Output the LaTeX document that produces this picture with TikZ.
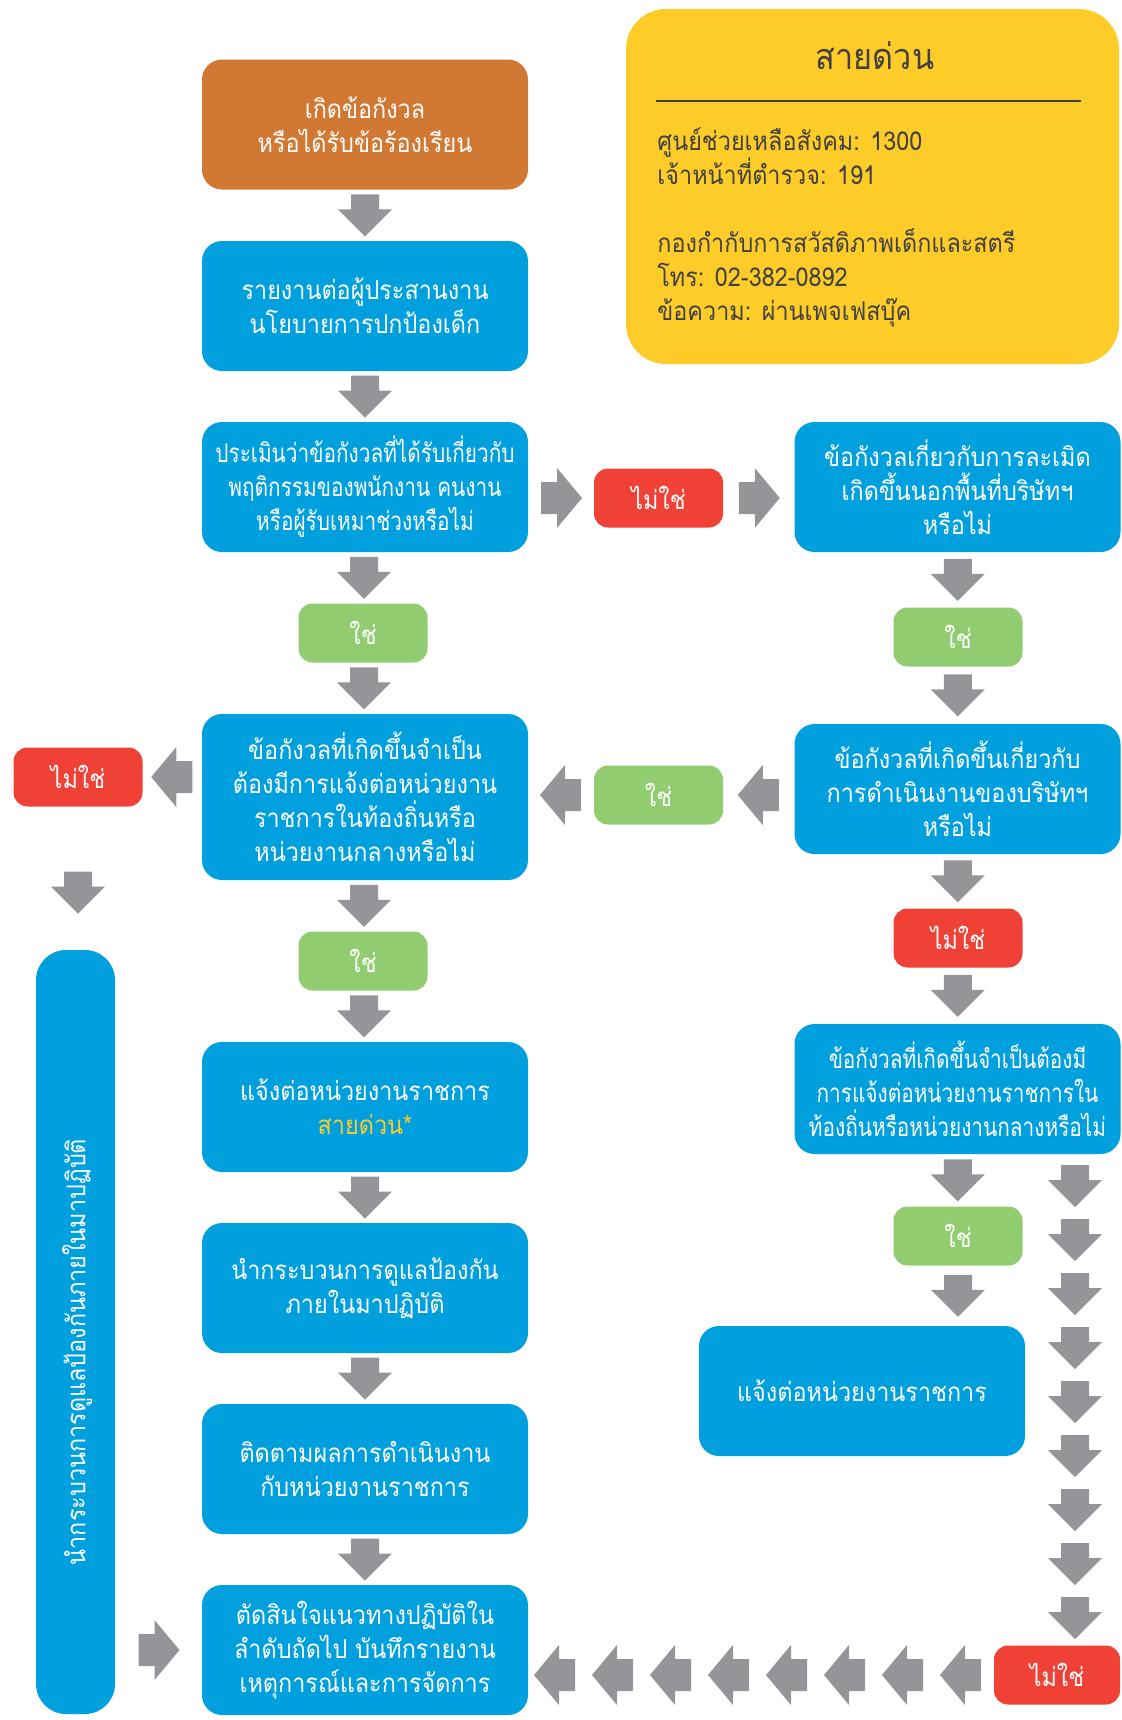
\documentclass[tikz,border=0pt]{standalone}
\usepackage{fontspec}
\newfontfamily\thaifont[Script=Thai, FakeStretch=0.9]{Loma}
\newfontfamily\thainarrow[Script=Thai, FakeStretch=0.8]{Loma}
\usetikzlibrary{calc}

\definecolor{boxblue}{RGB}{0,160,222}
\definecolor{boxorange}{RGB}{209,121,50}
\definecolor{nored}{RGB}{239,65,54}
\definecolor{yesgreen}{RGB}{146,204,112}
\definecolor{hotyellow}{RGB}{254,204,41}
\definecolor{arrgray}{RGB}{147,149,152}
\definecolor{txtgray}{RGB}{65,64,66}

\begin{document}
\begin{tikzpicture}[x=0.5pt, y=-0.5pt, font=\thaifont\fontsize{13}{17}\selectfont,
  stepbox/.style={rounded corners=10pt, fill=boxblue, text=white, align=center,
    minimum width=163pt, minimum height=65pt, inner sep=0pt},
  widebox/.style={stepbox, font=\thainarrow\fontsize{13}{17}\selectfont},
  pill/.style={rounded corners=7pt, text=white, minimum width=64.5pt, minimum height=29.5pt, inner sep=0pt},
  nobox/.style={pill, fill=nored},
  yesbox/.style={pill, fill=yesgreen},
  varr/.pic={\fill[arrgray] (-21,-14) -- (-6,-14) -- (-6,-27) -- (21,0) -- (-6,27) -- (-6,14) -- (-21,14) -- cycle;},
  harr/.pic={\fill[arrgray] (-20,-16) -- (-4,-16) -- (-4,-30) -- (21,0) -- (-4,30) -- (-4,16) -- (-20,16) -- cycle;}]

\useasboundingbox (0,0) rectangle (1121,1720);

% hotline panel
\node[fill=hotyellow, rounded corners=20pt, minimum width=246.5pt, minimum height=177.5pt] (hotline) at (872.5,186.5) {};
\node[text=txtgray, font=\thaifont\fontsize{18}{22}\selectfont] (hltitle) at (875,56) {สายด่วน};
\draw[txtgray, line width=0.6pt] (656,101) -- (1081,101);
\node[text=txtgray, align=left, anchor=north west, inner sep=0pt] (hlinfo) at (657,127)
  {ศูนย์ช่วยเหลือสังคม: 1300\\เจ้าหน้าที่ตำรวจ: 191\\[17pt]กองกำกับการสวัสดิภาพเด็กและสตรี\\โทร: 02-382-0892\\ข้อความ: ผ่านเพจเฟสบุ๊ค};

% main column
\node[stepbox, fill=boxorange] (start) at (365,124.5) {เกิดข้อกังวล\\หรือได้รับข้อร้องเรียน};
\node[stepbox] (report) at (365,306) {รายงานต่อผู้ประสานงาน\\นโยบายการปกป้องเด็ก};
\node[widebox] (assess) at (365,487) {ประเมินว่าข้อกังวลที่ได้รับเกี่ยวกับ\\พฤติกรรมของพนักงาน คนงาน\\หรือผู้รับเหมาช่วงหรือไม่};
\node[yesbox] (yesA) at (363,633) {ใช่};
\node[stepbox, minimum height=83pt] (needgov) at (365,797) {ข้อกังวลที่เกิดขึ้นจำเป็น\\ต้องมีการแจ้งต่อหน่วยงาน\\ราชการในท้องถิ่นหรือ\\หน่วยงานกลางหรือไม่};
\node[yesbox] (yesD) at (363,961) {ใช่};
\node[stepbox] (notify) at (365,1107) {แจ้งต่อหน่วยงานราชการ\\\textcolor{hotyellow}{สายด่วน*}};
\node[stepbox] (internal) at (365,1288) {นำกระบวนการดูแลป้องกัน\\ภายในมาปฏิบัติ};
\node[stepbox] (follow) at (365,1469) {ติดตามผลการดำเนินงาน\\กับหน่วยงานราชการ};
\node[stepbox] (decide) at (365,1650) {ตัดสินใจแนวทางปฏิบัติใน\\ลำดับถัดไป บันทึกรายงาน\\เหตุการณ์และการจัดการ};

% middle and right column
\node[nobox] (noA) at (658.5,498) {ไม่ใช่};
\node[yesbox] (yesC) at (658.5,795) {ใช่};
\node[stepbox] (offsite) at (957.5,487) {ข้อกังวลเกี่ยวกับการละเมิด\\เกิดขึ้นนอกพื้นที่บริษัทฯ\\หรือไม่};
\node[yesbox] (yesB) at (958,637) {ใช่};
\node[stepbox] (operate) at (957.5,789) {ข้อกังวลที่เกิดขึ้นเกี่ยวกับ\\การดำเนินงานของบริษัทฯ\\หรือไม่};
\node[nobox] (noC) at (958,938) {ไม่ใช่};
\node[widebox] (needgovR) at (957.5,1089) {ข้อกังวลที่เกิดขึ้นจำเป็นต้องมี\\การแจ้งต่อหน่วยงานราชการใน\\ท้องถิ่นหรือหน่วยงานกลางหรือไม่};
\node[yesbox] (yesE) at (958,1236) {ใช่};
\node[stepbox] (notifyR) at (862,1391) {แจ้งต่อหน่วยงานราชการ};
\node[nobox, minimum width=63pt] (noD) at (1057,1675) {ไม่ใช่};

% left side
\node[nobox] (noB) at (78,777) {ไม่ใช่};
\node[stepbox, minimum width=39.5pt, minimum height=382pt, rounded corners=15pt] (sidebar) at (75.5,1332) {};
\node[text=white, rotate=90] (sidetext) at (77,1352) {นำกระบวนการดูแลป้องกันภายในมาปฏิบัติ};

% down arrows
\pic[rotate=-90] at ($(start.south)!.5!(report.north)$) {varr};
\pic[rotate=-90] at ($(report.south)!.5!(assess.north)$) {varr};
\pic[rotate=-90] at ($(assess.south)!.5!(yesA.north)$) {varr};
\pic[rotate=-90] at ($(yesA.south)!.5!(needgov.north)$) {varr};
\pic[rotate=-90] at ($(needgov.south)!.5!(yesD.north)$) {varr};
\pic[rotate=-90] at ($(yesD.south)!.5!(notify.north)$) {varr};
\pic[rotate=-90] at ($(notify.south)!.5!(internal.north)$) {varr};
\pic[rotate=-90] at ($(internal.south)!.5!(follow.north)$) {varr};
\pic[rotate=-90] at ($(follow.south)!.5!(decide.north)$) {varr};
\pic[rotate=-90] at ($(offsite.south)!.5!(yesB.north)$) {varr};
\pic[rotate=-90] at ($(yesB.south)!.5!(operate.north)$) {varr};
\pic[rotate=-90] at ($(operate.south)!.5!(noC.north)$) {varr};
\pic[rotate=-90] at ($(noC.south)!.5!(needgovR.north)$) {varr};
\pic[rotate=-90] at ($(needgovR.south)!.5!(yesE.north)$) {varr};
\pic[rotate=-90] at ($(yesE.south)!.5!(yesE.south |- notifyR.north)$) {varr};
\pic[rotate=-90] at ($(noB.south)!.6!(noB.south |- sidebar.north)$) {varr};

% sideways arrows
\pic at ($(assess.east |- noA.west)!.5!(noA.west)$) {harr};
\pic at ($(noA.east)!.5!(noA.east -| offsite.west)$) {harr};
\pic[rotate=180] at ($(yesC.east)!.5!(yesC.east -| operate.west)$) {harr};
\pic[rotate=180] at ($(yesC.west)!.5!(yesC.west -| needgov.east)$) {harr};
\pic[rotate=180] at ($(noB.east)!.5!(noB.east -| needgov.west)$) {harr};
\pic at ($(decide.west)!.5!(decide.west -| sidebar.east)$) {harr};

% long way down on the right
\pic[rotate=-90] at (1075,1186) {varr};
\pic[rotate=-90] at (1075,1240) {varr};
\pic[rotate=-90] at (1075,1294) {varr};
\pic[rotate=-90] at (1075,1348) {varr};
\pic[rotate=-90] at (1075,1402) {varr};
\pic[rotate=-90] at (1075,1456) {varr};
\pic[rotate=-90] at (1075,1510) {varr};
\pic[rotate=-90] at (1075,1564) {varr};
\pic[rotate=-90] at (1075,1618) {varr};

% long way back along the bottom
\pic[rotate=180] at (961,1675) {harr};
\pic[rotate=180] at (903,1675) {harr};
\pic[rotate=180] at (845,1675) {harr};
\pic[rotate=180] at (787,1675) {harr};
\pic[rotate=180] at (729,1675) {harr};
\pic[rotate=180] at (671,1675) {harr};
\pic[rotate=180] at (613,1675) {harr};
\pic[rotate=180] at (555,1675) {harr};

\end{tikzpicture}
\end{document}
